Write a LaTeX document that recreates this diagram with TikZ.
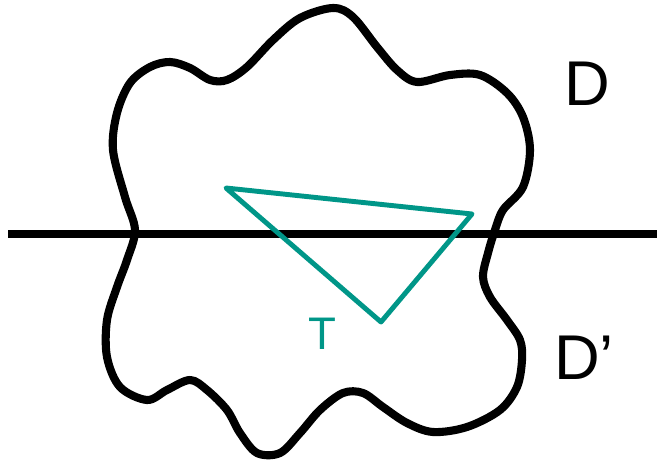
\documentclass[tikz,border=0pt]{standalone}
\usepackage{fontspec}
\setsansfont{Liberation Sans}
\usetikzlibrary{calc}
\definecolor{teal}{RGB}{0,150,136}
\tikzset{
	blob/.style={line width=4.6pt, line join=round},
	cut/.style={line width=4.2pt},
	tri/.style={teal, line width=2.8pt, line join=round},
	lbl/.style={font=\sffamily\fontsize{36}{40}\selectfont, inner sep=0pt},
}

\begin{document}
\begin{tikzpicture}[x=0.02cm, y=-0.02cm]
\useasboundingbox (0,0) rectangle (659,466);

% the region D u D'
\draw[blob] plot[smooth cycle, tension=0.55] coordinates {
	(135,230) (125,197) (113,150) (117,113) (130,83) (150,67) (170,62)
	(190,68) (210,80) (227,80) (247,67) (273,40) (300,18) (333,8)
	(353,17) (377,47) (397,70) (417,82) (450,75) (480,75) (507,93)
	(523,117) (530,150) (523,187) (503,210) (495,230) (488,253)
	(483,277) (490,297) (507,320) (520,340) (522,360) (517,387)
	(500,410) (467,427) (433,432) (407,423) (383,407) (363,393)
	(343,393) (320,410) (300,433) (280,453) (257,453) (240,433)
	(227,410) (207,390) (190,380) (167,390) (147,400) (120,387)
	(107,357) (107,320) (117,287) (127,260)};

% the cutting line
\coordinate (l) at (8,234);
\coordinate (r) at (657,234);
\draw[cut] (l) -- (r);

% triangle T
\coordinate (t1) at (226,188);
\coordinate (t2) at (472,214);
\coordinate (t3) at (381,322);
\draw[tri] (t1) -- (t2) -- (t3) -- cycle;

\node[lbl] (D) at (587,84) {D};
\node[lbl] (Dp) at (584,358) {D'};
\node[lbl, teal, font=\sffamily\fontsize{26}{30}\selectfont] (T) at (322,334) {T};

\end{tikzpicture}
\end{document}
